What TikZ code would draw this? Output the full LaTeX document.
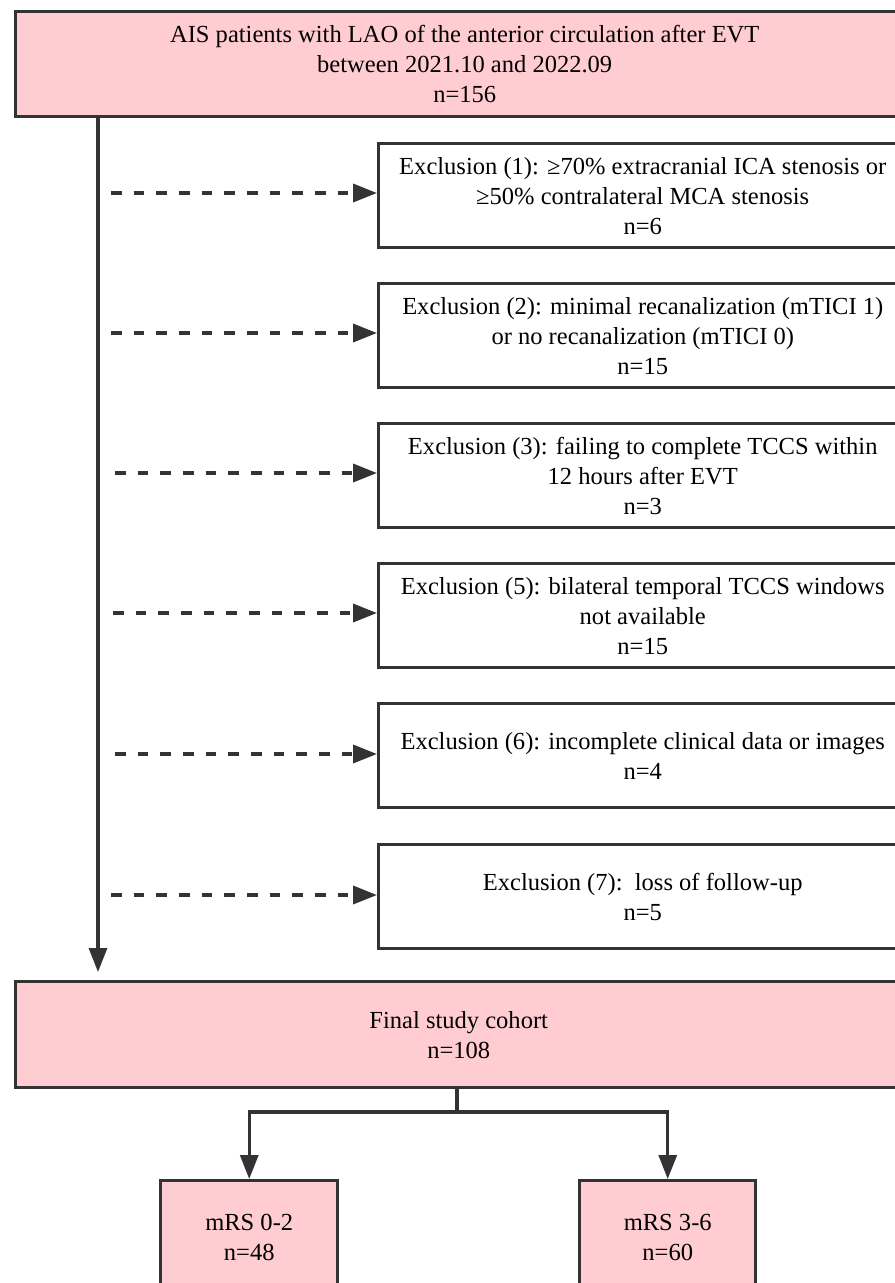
\documentclass[tikz,border=0pt]{standalone}
\usepackage{fontspec}
\setmainfont{Liberation Serif}
\usetikzlibrary{arrows.meta}
\definecolor{boxpink}{HTML}{FFCCD2}
\definecolor{linegray}{HTML}{333333}
\begin{document}
\begin{tikzpicture}[x=0.75pt,y=-0.75pt,
  box/.style={draw=linegray, line width=2.6pt, rectangle, align=center, inner sep=0pt, anchor=north west,
    font=\fontsize{18.4}{22.5}\selectfont},
  pinkbox/.style={box, fill=boxpink},
  exbox/.style={box, fill=white, minimum width=396pt, minimum height=78pt},
  plain/.style={draw=linegray, line width=2.4pt},
  conn/.style={plain, -{Triangle[length=18pt,width=13.5pt]}},
  dconn/.style={conn, line width=2.7pt, dash pattern=on 8pt off 9pt}
]
\useasboundingbox (0,0) rectangle (895,1283);
\clip (0,0) rectangle (895,1283);

\node[pinkbox, minimum width=673.5pt, minimum height=78.75pt] (top) at (14,10)
  {AIS patients with LAO of the anterior circulation after EVT\\between 2021.10 and 2022.09\\n=156};

\node[exbox] (e1) at (377,142) {Exclusion (1): ≥70\% extracranial ICA stenosis or\\≥50\% contralateral MCA stenosis\\n=6};
\node[exbox] (e2) at (377,282) {Exclusion (2): minimal recanalization (mTICI 1)\\or no recanalization (mTICI 0)\\n=15};
\node[exbox] (e3) at (377,422) {Exclusion (3): failing to complete TCCS within\\12 hours after EVT\\n=3};
\node[exbox] (e4) at (377,562) {Exclusion (5): bilateral temporal TCCS windows\\not available\\n=15};
\node[exbox] (e5) at (377,702) {Exclusion (6): incomplete clinical data or images\\n=4};
\node[exbox] (e6) at (377,843) {Exclusion (7):\ \ loss of follow-up\\n=5};

\node[pinkbox, minimum width=664.5pt, minimum height=79.5pt] (final) at (14,980)
  {Final study cohort\\n=108};

\node[pinkbox, minimum width=132.75pt, minimum height=85.5pt] (m1) at (159,1179) {mRS 0-2\\n=48};
\node[pinkbox, minimum width=132pt, minimum height=85.5pt] (m2) at (578,1179) {mRS 3-6\\n=60};

% main flow
\draw[conn, shorten >=6pt] (top.south -| 98,0) -- (final.north -| 98,0);

% exclusion arrows
\coordinate (d1) at (111,193);
\coordinate (d2) at (111,333);
\coordinate (d3) at (115,473);
\coordinate (d4) at (113,613);
\coordinate (d5) at (115,754);
\coordinate (d6) at (111,895);
\foreach \i in {1,...,6}{
  \draw[dconn] (d\i) -- (d\i -| e\i.west);
}

% split
\coordinate (s) at (457,1112);
\draw[plain] (final.south -| s) -- (s);
\draw[conn] (s) -| (m1.north);
\draw[conn] (s) -| (m2.north);
\end{tikzpicture}
\end{document}
